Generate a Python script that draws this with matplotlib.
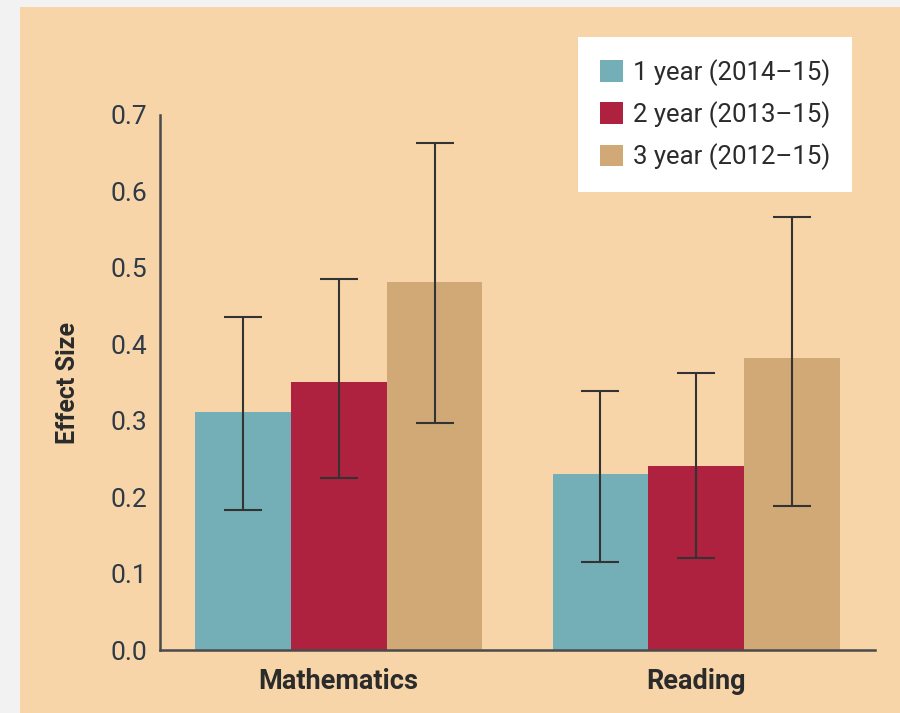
import matplotlib
matplotlib.use("Agg")
import matplotlib.pyplot as plt
import numpy as np
from matplotlib.patches import Rectangle, Patch

subjects = ["Mathematics", "Reading"]
series = ["1 year (2014\u201315)", "2 year (2013\u201315)", "3 year (2012\u201315)"]
colors = ["#74afb7", "#ae223f", "#d0a977"]
# effect sizes per series: [Mathematics, Reading]
effect_1yr = [0.311, 0.230]
effect_2yr = [0.351, 0.241]
effect_3yr = [0.481, 0.382]
# confidence interval lower / upper bounds
lower_1yr = [0.183, 0.115]
upper_1yr = [0.436, 0.339]
lower_2yr = [0.225, 0.120]
upper_2yr = [0.485, 0.363]
lower_3yr = [0.297, 0.188]
upper_3yr = [0.663, 0.567]
yticks = [0.0, 0.1, 0.2, 0.3, 0.4, 0.5, 0.6, 0.7]

effects = [effect_1yr, effect_2yr, effect_3yr]
lowers = [lower_1yr, lower_2yr, lower_3yr]
uppers = [upper_1yr, upper_2yr, upper_3yr]

plt.rcParams['font.family'] = ['Roboto', 'DejaVu Sans']

W, H = 900, 713
fig = plt.figure(figsize=(W / 100, H / 100), dpi=100)
fig.patch.set_facecolor("#f2f2f2")
fig.patches.append(Rectangle((20 / W, 0), 1 - 20 / W, 1 - 7 / H,
                             transform=fig.transFigure, facecolor="#f7d5a8",
                             edgecolor="none", zorder=-10))

ax = fig.add_axes([160 / W, 1 - 650 / H, (875 - 160) / W, (650 - 115) / H])
ax.set_facecolor("none")

x = np.arange(len(subjects))
w = 0.268
offsets = [-w, 0, w]
for vals, lo, hi, c, off, lab in zip(effects, lowers, uppers, colors, offsets, series):
    vals = np.array(vals)
    yerr = np.vstack([vals - np.array(lo), np.array(hi) - vals])
    ax.bar(x + off, vals, width=w, color=c, edgecolor="none", label=lab, zorder=2)
    ax.errorbar(x + off, vals, yerr=yerr, fmt="none", ecolor="#333333",
                elinewidth=1.5, capsize=14, capthick=1.5, zorder=3)

ax.set_xlim(-0.5, 1.5)
ax.set_ylim(0, 0.7)
ax.set_yticks(yticks)
ax.set_yticklabels([f"{t:.1f}" for t in yticks], fontsize=19, color="#2e3a45")
ax.set_xticks(x)
ax.set_xticklabels(subjects, fontsize=19.5, fontweight="bold", color="#2b2b2b")
ax.tick_params(axis="both", length=0)
ax.tick_params(axis="y", pad=9)
ax.tick_params(axis="x", pad=13)
for s in ["top", "right"]:
    ax.spines[s].set_visible(False)
for s in ["left", "bottom"]:
    ax.spines[s].set_color("#4a4a4a")
    ax.spines[s].set_linewidth(1.8)
ax.set_ylabel("Effect Size", fontsize=18, fontweight="bold", color="#2b2b2b", labelpad=22)

handles = [Patch(facecolor=c, edgecolor="none") for c in colors]
leg = fig.legend(handles, series, loc="upper right",
                 bbox_to_anchor=(852 / W, 1 - 37 / H), frameon=True,
                 fancybox=False, framealpha=1, edgecolor="none", facecolor="white",
                 fontsize=18.5, handlelength=0.9, handleheight=0.9, handletextpad=0.4,
                 labelspacing=0.6, borderpad=0.85, borderaxespad=0)
for t in leg.get_texts():
    t.set_color("#2b2b2b")

fig.savefig("out.png", dpi=100, facecolor=fig.get_facecolor())
